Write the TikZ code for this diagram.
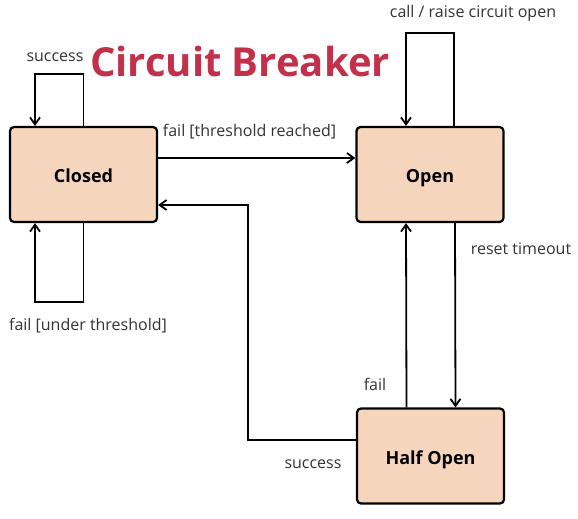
\documentclass[tikz,border=0pt]{standalone}
\usepackage{fontspec}
\setmainfont{Open Sans}
\usetikzlibrary{arrows.meta}
\definecolor{pesca}{HTML}{F6D5BD}
\definecolor{titolo}{HTML}{C3304A}
\definecolor{testo}{HTML}{333333}
\begin{document}
\begin{tikzpicture}[x=1pt, y=-1pt, line width=1.8pt, >={Straight Barb[length=7pt,width=10pt]},
    stato/.style = {draw, line width=2.2pt, fill=pesca, rounded corners=4pt, minimum width=147pt, minimum height=95pt, text height=16pt, text depth=0pt, font=\bfseries\fontsize{18}{20}\selectfont},
    etich/.style = {text=testo, font=\fontsize{16}{18}\selectfont, inner sep=0pt}]
    \useasboundingbox (0,0) rectangle (578,519);
    % Disegna gli stati
    \node[stato] (closed) at (83.5,174.5) {Closed};
    \node[stato] (open) at (430,174.5) {Open};
    \node[stato] (half) at (430.5,456) {Half Open};
    % Punti di appoggio per i cappi e il ritorno
    \coordinate (c1) at (35,74);
    \coordinate (c2) at (35,302);
    \coordinate (o1) at (406,33);
    \coordinate (r1) at (248,205);
    % Disegna gli archi orientati
    \draw[->] (closed.north) |- (c1) -- (c1 |- closed.north);
    \draw[->] (closed.south) |- (c2) -- (c2 |- closed.south);
    \draw[->] ([xshift=24pt]open.north) |- (o1) -- (o1 |- open.north);
    \draw[->] ([yshift=16.5pt]closed.east) -- ([yshift=16.5pt]open.west);
    \draw[->] ([xshift=25pt]open.south) -- ([xshift=25pt]half.north);
    \draw[->] ([xshift=-24pt]half.north) -- ([xshift=-24pt]open.south);
    \draw[->] ([yshift=16pt]half.west) -| (r1) -- (r1 -| closed.east);
    % Etichette
    \node[etich] (l1) at (55,57) {success};
    \node[etich] (l2) at (88,326) {fail [under threshold]};
    \node[etich, anchor=west] (l3) at (162,132) {fail [threshold reached]};
    \node[etich] (l4) at (473,13) {call / raise circuit open};
    \node[etich, anchor=west] (l5) at (470,249) {reset timeout};
    \node[etich] (l6) at (375,384) {fail};
    \node[etich] (l7) at (313,464) {success};
    \node[text=titolo, font=\bfseries\fontsize{40}{44}\selectfont] (tit) at (240,62) {Circuit Breaker};
\end{tikzpicture}
\end{document}
